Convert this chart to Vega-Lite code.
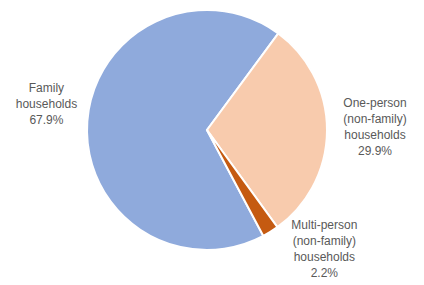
{
  "$schema": "https://vega.github.io/schema/vega-lite/v6.json",
  "width": 414,
  "height": 260,
  "autosize": {"type": "none"},
  "padding": {"left": 0, "top": 0, "right": 10, "bottom": 25},
  "background": "white",
  "view": {"stroke": null},
  "data": {
    "values": [
      {"category": "Family households", "rank": 1, "share": 67.9, "label": ["Family", "households", "67.9%"]},
      {"category": "One-person (non-family) households", "rank": 2, "share": 29.9, "label": ["One-person", "(non-family)", "households", "29.9%"]},
      {"category": "Multi-person (non-family) households", "rank": 3, "share": 2.2, "label": ["Multi-person", "(non-family)", "households", "2.2%"]}
    ]
  },
  "encoding": {
    "theta": {
      "field": "share",
      "type": "quantitative",
      "stack": true,
      "scale": {"domain": [0, 100], "range": [2.6529, 8.9361]}
    },
    "order": {"field": "rank", "type": "quantitative"}
  },
  "layer": [
    {
      "mark": {"type": "arc", "outerRadius": 120, "stroke": "white", "strokeWidth": 2},
      "encoding": {
        "color": {
          "field": "category",
          "type": "nominal",
          "scale": {
            "domain": ["Family households", "One-person (non-family) households", "Multi-person (non-family) households"],
            "range": ["#8FAADC", "#F8CBAD", "#C55A11"]
          },
          "legend": null
        }
      }
    },
    {
      "mark": {"type": "text", "radius": 165, "dx": 4, "dy": -30, "font": "Liberation Sans", "fontSize": 12, "lineHeight": 16, "fill": "#595959", "align": "center", "baseline": "middle"},
      "encoding": {
        "detail": {"field": "category", "type": "nominal"},
        "text": {"condition": {"test": "datum.rank === 1", "field": "label"}, "value": ""}
      }
    },
    {
      "mark": {"type": "text", "radius": 165, "dx": 3, "dy": -28, "font": "Liberation Sans", "fontSize": 12, "lineHeight": 16, "fill": "#595959", "align": "center", "baseline": "middle"},
      "encoding": {
        "detail": {"field": "category", "type": "nominal"},
        "text": {"condition": {"test": "datum.rank === 2", "field": "label"}, "value": ""}
      }
    },
    {
      "mark": {"type": "text", "radius": 165, "dx": 30, "dy": -45, "font": "Liberation Sans", "fontSize": 12, "lineHeight": 16, "fill": "#595959", "align": "center", "baseline": "middle"},
      "encoding": {
        "detail": {"field": "category", "type": "nominal"},
        "text": {"condition": {"test": "datum.rank === 3", "field": "label"}, "value": ""}
      }
    }
  ]
}
